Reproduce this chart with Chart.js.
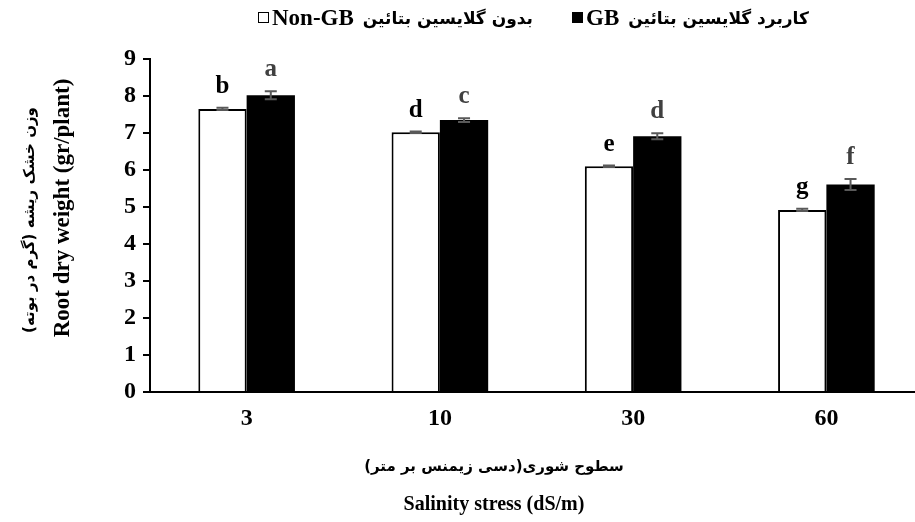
<!DOCTYPE html>
<html>
<head>
<meta charset="utf-8">
<script src="https://cdn.jsdelivr.net/npm/chart.js@4.4.1/dist/chart.umd.min.js"></script>
<style>
  body { margin: 0; background: #fff; overflow: hidden; }
  canvas { display: block; }
</style>
</head>
<body>
<canvas id="chart" width="925" height="522"></canvas>
<script>
// Data
const salinityLevels = ['3', '10', '30', '60'];
const nonGbValues = [7.65, 7.02, 6.10, 4.92];
const gbValues = [8.02, 7.35, 6.91, 5.61];
const nonGbErrors = [0.03, 0.02, 0.02, 0.03];
const gbErrors = [0.11, 0.05, 0.08, 0.15];
const nonGbLetters = ['b', 'd', 'e', 'g'];
const gbLetters = ['a', 'c', 'd', 'f'];
const yTickValues = [0, 1, 2, 3, 4, 5, 6, 7, 8, 9];

const nonGbName = ['Non-GB', 'بدون گلایسین بتائین'];
const gbName = ['GB', 'کاربرد گلایسین بتائین'];
const yTitle = ['وزن خشک ریشه (گرم در بوته)', 'Root dry weight (gr/plant)'];
const xTitle = ['سطوح شوری(دسی زیمنس بر متر)', 'Salinity stress (dS/m)'];

const SERIF = '"Liberation Serif", "Times New Roman", serif';
const PERSIAN = '"DejaVu Sans", "Noto Sans", sans-serif';

// Error bars + significance letters
const errorBars = {
  id: 'errorBars',
  afterDatasetsDraw(chart) {
    const ctx = chart.ctx;
    const yScale = chart.scales.y;
    chart.data.datasets.forEach((ds, i) => {
      const meta = chart.getDatasetMeta(i);
      meta.data.forEach((bar, j) => {
        const v = ds.data[j];
        const e = ds.errors[j];
        const top = yScale.getPixelForValue(v + e);
        const bottom = yScale.getPixelForValue(v - e);
        ctx.save();
        ctx.strokeStyle = '#595959';
        ctx.lineWidth = 2;
        ctx.beginPath();
        ctx.moveTo(bar.x, top); ctx.lineTo(bar.x, bottom);
        ctx.moveTo(bar.x - 6, top); ctx.lineTo(bar.x + 6, top);
        ctx.moveTo(bar.x - 6, bottom); ctx.lineTo(bar.x + 6, bottom);
        ctx.stroke();
        ctx.fillStyle = ds.letterColor;
        ctx.font = 'bold 25px ' + SERIF;
        ctx.textAlign = 'center';
        ctx.textBaseline = 'alphabetic';
        ctx.fillText(ds.letters[j], bar.x, top - 15);
        ctx.restore();
      });
    });
  }
};

// Legend and axis titles
function drawPersian(ctx, text, x, y, align) {
  ctx.save();
  ctx.direction = 'rtl';
  ctx.textAlign = align;
  ctx.fillText(text, x, y);
  ctx.restore();
}

const titlesAndLegend = {
  id: 'titlesAndLegend',
  afterDraw(chart) {
    const ctx = chart.ctx;
    ctx.save();
    ctx.fillStyle = '#000';
    ctx.textBaseline = 'middle';

    // legend
    const items = [
      { name: nonGbName, fill: '#fff', x: 258 },
      { name: gbName, fill: '#000', x: 572 }
    ];
    items.forEach(item => {
      let x = item.x;
      ctx.fillStyle = item.fill;
      ctx.fillRect(x, 12, 11, 11);
      ctx.strokeStyle = '#000';
      ctx.lineWidth = 1;
      ctx.strokeRect(x + 0.5, 12.5, 10, 10);
      x += 14;
      ctx.fillStyle = '#000';
      ctx.font = 'bold 23px ' + SERIF;
      ctx.textAlign = 'left';
      ctx.fillText(item.name[0], x, 19);
      x += ctx.measureText(item.name[0]).width + 9;
      ctx.font = 'bold 17px ' + PERSIAN;
      drawPersian(ctx, item.name[1], x, 20, 'left');
    });

    // y title
    ctx.save();
    ctx.translate(30, 220);
    ctx.rotate(-Math.PI / 2);
    ctx.font = 'bold 15px ' + PERSIAN;
    drawPersian(ctx, yTitle[0], 0, 0, 'center');
    ctx.restore();
    ctx.save();
    ctx.translate(63, 208);
    ctx.rotate(-Math.PI / 2);
    ctx.font = 'bold 23px ' + SERIF;
    ctx.textAlign = 'center';
    ctx.fillText(yTitle[1], 0, 0);
    ctx.restore();

    // x title
    ctx.font = 'bold 15px ' + PERSIAN;
    drawPersian(ctx, xTitle[0], 494, 467, 'center');
    ctx.font = 'bold 20px ' + SERIF;
    ctx.textAlign = 'center';
    ctx.fillText(xTitle[1], 494, 505);
    ctx.restore();
  }
};

new Chart(document.getElementById('chart'), {
  type: 'bar',
  data: {
    labels: salinityLevels,
    datasets: [
      {
        label: nonGbName.join(' '),
        data: nonGbValues,
        errors: nonGbErrors,
        letters: nonGbLetters,
        letterColor: '#000',
        backgroundColor: '#fff',
        borderColor: '#000',
        borderWidth: 2
      },
      {
        label: gbName.join(' '),
        data: gbValues,
        errors: gbErrors,
        letters: gbLetters,
        letterColor: '#404040',
        backgroundColor: '#000',
        borderColor: '#000',
        borderWidth: 0
      }
    ]
  },
  options: {
    responsive: false,
    animation: false,
    categoryPercentage: 0.5,
    barPercentage: 1.0,
    layout: { padding: { top: 59, right: 2, left: 0, bottom: 0 } },
    plugins: {
      legend: { display: false },
      tooltip: { enabled: false }
    },
    scales: {
      x: {
        grid: { drawOnChartArea: false, drawTicks: false },
        border: { color: '#000', width: 2 },
        ticks: { color: '#000', font: { family: SERIF, size: 24, weight: 'bold' }, padding: 12 },
        afterFit(scale) { scale.height = 130; }
      },
      y: {
        min: 0,
        max: 9,
        afterBuildTicks(scale) { scale.ticks = yTickValues.map(v => ({ value: v })); },
        grid: { drawOnChartArea: false, drawTicks: true, tickLength: 7, color: '#000', lineWidth: 2 },
        border: { color: '#000', width: 2 },
        ticks: { color: '#000', font: { family: SERIF, size: 24, weight: 'bold' }, padding: 7 },
        afterFit(scale) { scale.width = 150; }
      }
    }
  },
  plugins: [errorBars, titlesAndLegend]
});
</script>
</body>
</html>
